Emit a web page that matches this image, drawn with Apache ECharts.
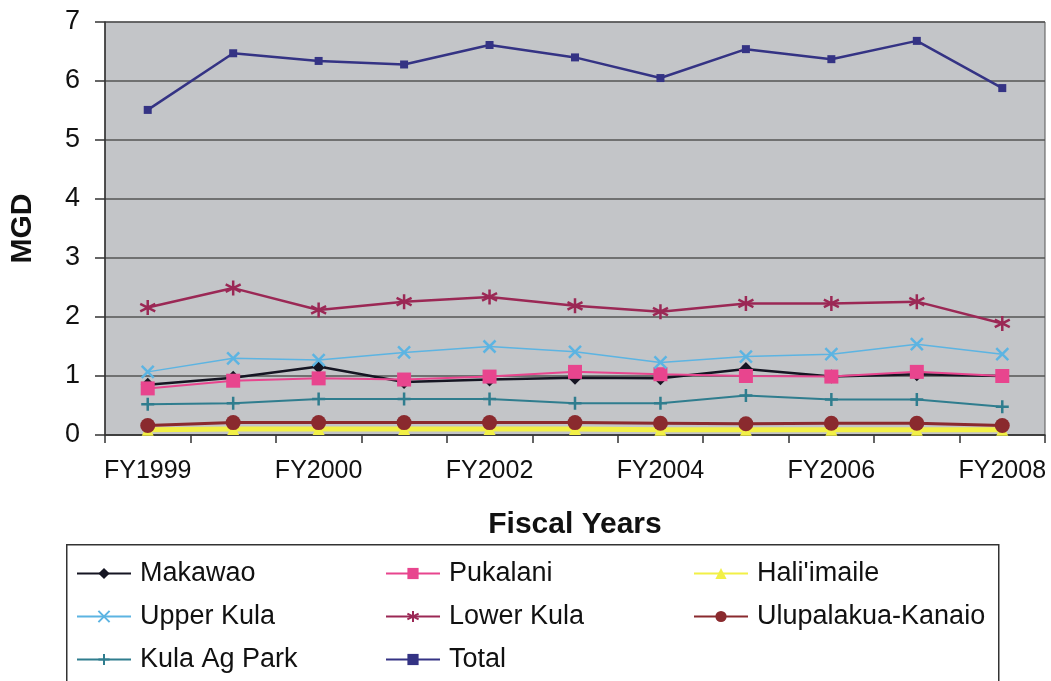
<!DOCTYPE html>
<html>
<head>
<meta charset="utf-8">
<script src="https://cdn.jsdelivr.net/npm/echarts@6/dist/echarts.min.js"></script>
<style>
html,body{margin:0;padding:0;background:#fff;}
#chart{width:1051px;height:681px;}
</style>
</head>
<body>
<div id="chart"></div>
<script>
const categories = ["FY1999","FY1999 ","FY2000","FY2001","FY2002","FY2003","FY2004","FY2005","FY2006","FY2007","FY2008"];
const makawao    = [0.85,0.97,1.16,0.90,0.94,0.97,0.96,1.12,0.99,1.03,1.00];
const pukalani   = [0.79,0.92,0.96,0.94,0.99,1.07,1.03,1.00,0.99,1.07,1.00];
const haliimaile = [0.09,0.10,0.10,0.10,0.10,0.10,0.09,0.09,0.09,0.09,0.09];
const upperKula  = [1.07,1.30,1.27,1.40,1.50,1.41,1.23,1.33,1.37,1.54,1.37];
const lowerKula  = [2.16,2.49,2.12,2.26,2.34,2.19,2.09,2.23,2.23,2.26,1.89];
const ulupalakua = [0.16,0.21,0.21,0.21,0.21,0.21,0.20,0.19,0.20,0.20,0.16];
const kulaAgPark = [0.52,0.54,0.61,0.61,0.61,0.54,0.54,0.67,0.60,0.60,0.48];
const total      = [5.51,6.47,6.34,6.28,6.61,6.40,6.05,6.54,6.37,6.68,5.88];
const yTicks = [0,1,2,3,4,5,6,7];

const FONT = '"Liberation Sans", Arial, sans-serif';
const X_PATH = 'path://M0,0L10,10M10,0L0,10';
const AST_PATH = 'path://M5,0L5,10M0.7,2.5L9.3,7.5M9.3,2.5L0.7,7.5';
const PLUS_PATH = 'path://M5,0L5,10M0,5L10,5';

function mk(name, data, color, symbol, size, lw, stroke) {
  return {
    name: name, type: 'line', data: data,
    symbol: symbol, symbolSize: size,
    lineStyle: {color: color, width: lw},
    itemStyle: stroke ? {color: color, borderColor: color, borderWidth: 2.5} : {color: color, borderColor: color, borderWidth: 0},
    emphasis: {disabled: true},
    animation: false
  };
}

const series = [
  mk('Makawao', makawao, '#151522', 'diamond', 14, 2.5, false),
  mk('Pukalani', pukalani, '#e8458e', 'rect', 14, 2, false),
  mk("Hali'imaile", haliimaile, '#f2f046', 'triangle', 12, 5, false),
  mk('Upper Kula', upperKula, '#5cb4e2', X_PATH, 12, 1.5, true),
  mk('Lower Kula', lowerKula, '#9b2855', AST_PATH, 15, 2.5, true),
  mk('Ulupalakua-Kanaio', ulupalakua, '#8a2a2e', 'circle', 15, 3, false),
  mk('Kula Ag Park', kulaAgPark, '#2f7d8e', PLUS_PATH, 13, 2, true),
  mk('Total', total, '#343384', 'rect', 8, 2.5, false)
];

const legendBase = {
  orient: 'vertical', top: 555, itemGap: 16, itemWidth: 54, itemHeight: 14,
  textStyle: {fontFamily: FONT, fontSize: 27, color: '#111', padding: [0,0,0,4]},
  selectedMode: false
};

const chart = echarts.init(document.getElementById('chart'), null, {renderer: 'canvas'});
chart.setOption({
  backgroundColor: '#ffffff',
  animation: false,
  grid: {left: 102, right: 6, top: 22, bottom: 246, show: true, backgroundColor: '#c3c5c8', borderColor: '#555', borderWidth: 1},
  legend: [
    Object.assign({}, legendBase, {left: 71, data: ['Makawao','Upper Kula','Kula Ag Park']}),
    Object.assign({}, legendBase, {left: 380, data: ['Pukalani','Lower Kula','Total']}),
    Object.assign({}, legendBase, {left: 688, data: ["Hali'imaile",'Ulupalakua-Kanaio']})
  ],
  xAxis: {
    type: 'category', data: categories, boundaryGap: true,
    name: 'Fiscal Years', nameLocation: 'middle', nameGap: 75,
    nameTextStyle: {fontFamily: FONT, fontSize: 30, fontWeight: 'bold', color: '#111'},
    axisLine: {lineStyle: {color: '#333', width: 1.5}},
    axisTick: {show: true, interval: 0, length: 8, lineStyle: {color: '#333', width: 1.5}},
    axisLabel: {interval: 1, fontFamily: FONT, fontSize: 25, color: '#111', margin: 24},
    splitLine: {show: false}
  },
  yAxis: {
    type: 'value', min: yTicks[0], max: yTicks[yTicks.length-1], interval: 1,
    name: 'MGD', nameLocation: 'middle', nameGap: 67, nameRotate: 90,
    nameTextStyle: {fontFamily: FONT, fontSize: 30, fontWeight: 'bold', color: '#111'},
    axisLine: {show: true, lineStyle: {color: '#333', width: 1.5}},
    axisTick: {show: true, length: 10, lineStyle: {color: '#333', width: 1.5}},
    axisLabel: {fontFamily: FONT, fontSize: 27, color: '#111', margin: 25},
    splitLine: {show: true, lineStyle: {color: '#555', width: 1.5}}
  },
  graphic: [{
    type: 'rect', left: 66, top: 544, z: -1,
    shape: {width: 932, height: 150},
    style: {fill: '#fff', stroke: '#333', lineWidth: 1.5}
  }],
  series: series
});
</script>
</body>
</html>
